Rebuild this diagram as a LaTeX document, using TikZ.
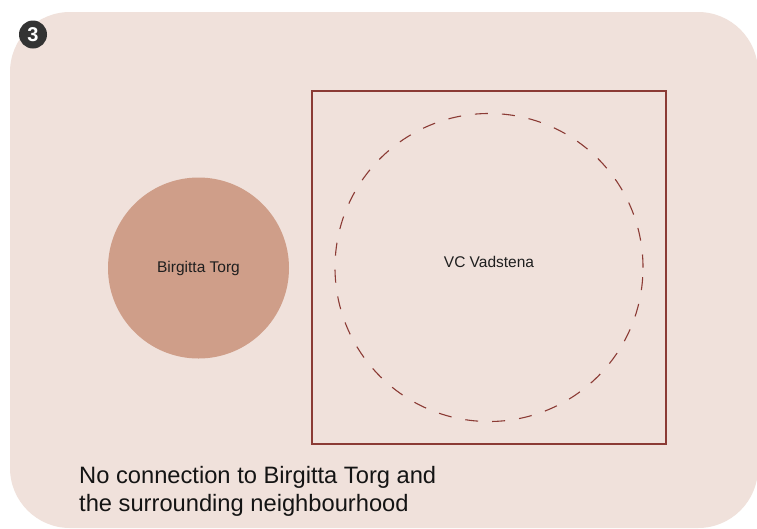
\documentclass[tikz,border=0pt]{standalone}
\usepackage{fontspec}
\setmainfont{Liberation Sans}
\definecolor{bgpink}{HTML}{F0E1DB}
\definecolor{torg}{HTML}{CF9E89}
\definecolor{frame}{HTML}{8B3B35}
\definecolor{badge}{HTML}{333333}
\begin{document}
\begin{tikzpicture}[x=1pt,y=-1pt,
  smalllabel/.style={font=\fontsize{15.5}{18}\selectfont, text=black!88},
  caption/.style={font=\fontsize{23.7}{28}\selectfont, text=black!92, align=left, anchor=north west, inner sep=0pt}]
\useasboundingbox (0,0) rectangle (757,528);
\fill[white] (0,0) rectangle (757,528);
\fill[bgpink, rounded corners=60pt] (10,12) rectangle (758,528);
% badge
\node[circle, fill=badge, minimum size=28pt, inner sep=0pt, text=white, font=\bfseries\fontsize{20}{20}\selectfont] (badge) at (33,34.5) {3};
% Birgitta Torg
\node[circle, fill=torg, minimum size=181pt, inner sep=0pt, smalllabel] (torg) at (198.5,268) {Birgitta Torg};
% VC Vadstena square
\node[draw=frame, line width=2pt, minimum width=354pt, minimum height=353pt, inner sep=0pt] (sq) at (489,267.5) {};
\node[circle, draw=frame, line width=1.1pt, dash pattern=on 13pt off 14pt, minimum size=308pt, inner sep=0pt] (vc) at (489,267.5) {};
\node[smalllabel] (vclabel) at (489,262) {VC Vadstena};
% caption
\node[caption] (cap) at (79,466) {No connection to Birgitta Torg and\\the surrounding neighbourhood};
\end{tikzpicture}
\end{document}
